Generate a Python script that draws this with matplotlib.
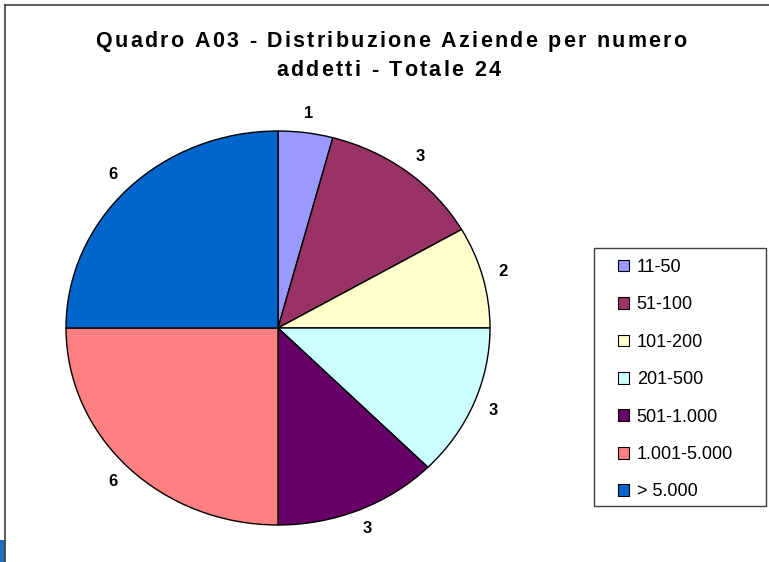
import matplotlib as mpl
import matplotlib.pyplot as plt
from matplotlib.patches import Patch, Rectangle
from matplotlib.lines import Line2D
from matplotlib.font_manager import FontProperties, findfont, get_font

mpl.rcParams['font.family'] = ['Liberation Sans', 'DejaVu Sans']

# data
categories = ['11-50', '51-100', '101-200', '201-500', '501-1.000', '1.001-5.000', '> 5.000']
values = [1, 3, 2, 3, 3, 6, 6]
colors = ['#9999FF', '#993366', '#FFFFCC', '#CCFFFF', '#660066', '#FF8080', '#0066CC']
title_lines = ['Quadro A03 - Distribuzione Aziende per numero', 'addetti - Totale 24']

W, H = 769, 562
DPI = 100
fig = plt.figure(figsize=(W / DPI, H / DPI), dpi=DPI)

# pie is slightly elliptical in the reference: axes box matches its bounds
x0, x1, y0, y1 = 66, 490, 131, 525
ax = fig.add_axes([x0 / W, 1 - y1 / H, (x1 - x0) / W, (y1 - y0) / H])
wedges, texts = ax.pie(values, colors=colors, startangle=90, counterclock=False,
                       labels=[str(v) for v in values], labeldistance=1.1,
                       wedgeprops={'edgecolor': 'black', 'linewidth': 1.0},
                       textprops={'fontsize': 12, 'fontweight': 'bold'})
for t in texts:
    t.set_ha('center')
    t.set_va('center')
ax.set_aspect('auto')
ax.set_xlim(-1, 1)
ax.set_ylim(-1, 1)
for w in wedges:
    w.set_clip_on(False)


# title with the wide letter spacing of the original
def spaced_line(s, xc, y, size, track):
    prop = FontProperties(family='Liberation Sans', weight='bold', size=size)
    font = get_font(findfont(prop))
    font.set_size(size, DPI)
    adv = [font.load_char(ord(c)).linearHoriAdvance / 65536 for c in s]
    total = sum(adv) + track * (len(s) - 1)
    x = xc - total / 2
    for c, a in zip(s, adv):
        fig.text(x / W, 1 - y / H, c, fontproperties=prop, ha='left', va='baseline')
        x += a + track


spaced_line(title_lines[0], 391, 47, 15.5, 2.3)
spaced_line(title_lines[1], 388, 76, 15.5, 2.3)

# legend: frame drawn separately, entries inside
fig.add_artist(Rectangle((594 / W, 1 - 506 / H), 172 / W, 258 / H, facecolor='white',
                         edgecolor='#404040', lw=1.0, zorder=1))
handles = [Patch(facecolor=c, edgecolor='black', linewidth=0.8) for c in colors]
leg = fig.legend(handles, categories, loc='upper left',
                 bbox_to_anchor=(618 / W, 1 - 259 / H), borderaxespad=0, borderpad=0,
                 fontsize=13, labelspacing=1.13, handlelength=0.62, handleheight=0.62,
                 handletextpad=0.42, frameon=False)
leg.set_zorder(2)

# chart area border (top and left only visible)
fig.add_artist(Line2D([5 / W, 1], [1 - 5 / H, 1 - 5 / H], color='#404040', lw=1.2))
fig.add_artist(Line2D([5 / W, 5 / W], [1 - 5 / H, 0], color='#404040', lw=1.2))
fig.add_artist(Rectangle((0, 0), 5 / W, 22 / H, color='#1a6fc0', lw=0))

fig.savefig('out.png', dpi=DPI)
